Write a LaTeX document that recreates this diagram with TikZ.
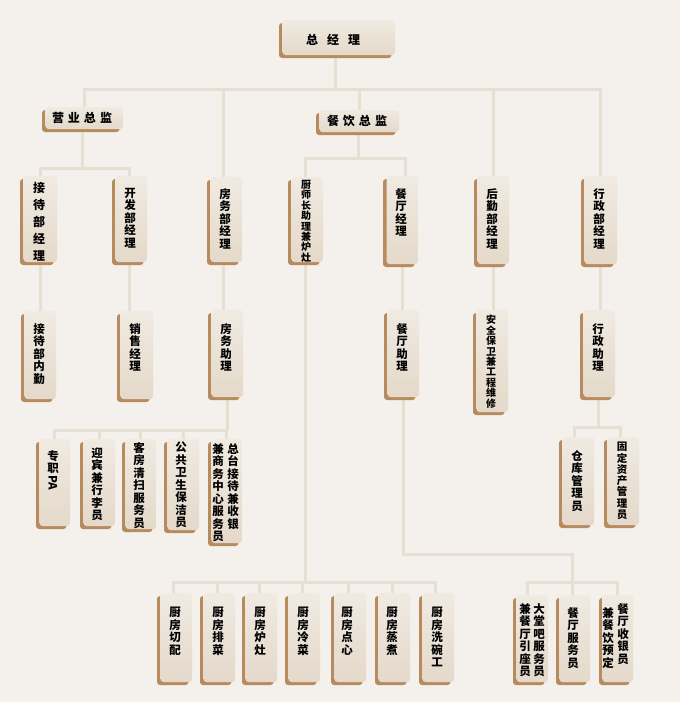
\documentclass[tikz,border=0pt]{standalone}
\usepackage{fontspec}
\newfontfamily\cjk{Noto Sans CJK SC}
\usetikzlibrary{shadows,backgrounds}
\definecolor{bgc}{HTML}{F4F0EB}
\definecolor{facet}{HTML}{F0EAE1}
\definecolor{faceb}{HTML}{E4D9CA}
\definecolor{brownc}{HTML}{B88B5E}
\definecolor{linec}{HTML}{E8DFD3}
\tikzset{
 box/.style={rounded corners=3pt, draw=none, top color=facet, bottom color=faceb, inner sep=0pt,
   general shadow={fill=brownc, shadow xshift=-3.5pt, shadow yshift=-3pt}},
 ln/.style={draw=linec, line width=3pt},
 vt/.style={inner sep=0pt, align=center, font={\cjk\bfseries\fontsize{11.5}{12.5}\selectfont}},
 vtb/.style={inner sep=0pt, align=center, font={\cjk\bfseries\fontsize{12}{17}\selectfont}},
 vtm/.style={inner sep=0pt, align=center, font={\cjk\bfseries\fontsize{10.5}{11.3}\selectfont}},
 vts/.style={inner sep=0pt, align=center, font={\cjk\bfseries\fontsize{10}{10.4}\selectfont}},
 ht/.style={inner sep=0pt, font={\cjk\bfseries\fontsize{12}{14}\selectfont}},
}
% name, x1, y1, x2, y2, text x, text top y, text style, text
\newcommand\ob[9]{%
 \node[box, minimum width={(#4-#2-3.5)*1pt}, minimum height={(#5-#3-3)*1pt}] (#1) at ({(#2+3.5+#4)/2},{(#3+#5-3)/2}) {};
 \node[#8, anchor=north] (#1t) at (#6,#7) {#9};
}
\begin{document}
\begin{tikzpicture}[x=1pt,y=-1pt]
\begin{scope}[on background layer]
 \fill[bgc] (0,0) rectangle (680,702);
\end{scope}
\useasboundingbox (0,0) rectangle (680,702);

% level 0/1
\ob{gm}{279}{20}{395}{58}{333}{34}{ht}{总\hspace{9pt}经\hspace{9pt}理}
\ob{yy}{42}{107}{123}{132}{82}{112}{ht}{营\hspace{4pt}业\hspace{4pt}总\hspace{4pt}监}
\ob{cy}{316}{110}{399}{135}{357}{115}{ht}{餐\hspace{4pt}饮\hspace{4pt}总\hspace{4pt}监}

% level 2
\ob{jd}{20}{176}{57}{265}{39}{182}{vtb}{接\\待\\部\\经\\理}
\ob{kf}{112}{176}{147}{265}{130}{188}{vt}{开\\发\\部\\经\\理}
\ob{fw}{207}{177}{242}{265}{225}{188}{vt}{房\\务\\部\\经\\理}
\ob{cs}{288}{177}{323}{265}{306}{180}{vts}{厨\\师\\长\\助\\理\\兼\\炉\\灶}
\ob{ct}{383}{176}{418}{267}{401}{188}{vt}{餐\\厅\\经\\理}
\ob{hq}{474}{176}{509}{267}{492}{188}{vt}{后\\勤\\部\\经\\理}
\ob{xz}{581}{176}{617}{267}{599}{188}{vt}{行\\政\\部\\经\\理}

% level 3
\ob{jn}{21}{311}{56}{402}{39}{323}{vt}{接\\待\\部\\内\\勤}
\ob{xs}{117}{311}{153}{402}{135}{323}{vt}{销\\售\\经\\理}
\ob{fz}{208}{310}{243}{400}{226}{323}{vt}{房\\务\\助\\理}
\ob{cz}{384}{310}{419}{400}{402}{323}{vt}{餐\\厅\\助\\理}
\ob{aq}{473}{310}{508}{415}{491}{315}{vts}{安\\全\\保\\卫\\兼\\工\\程\\维\\修}
\ob{xr}{580}{310}{615}{400}{598}{323}{vt}{行\\政\\助\\理}

% level 4
\ob{pa}{36}{439}{70}{529}{53}{450}{vt}{专\\职\\[1pt]\rotatebox[origin=c]{-90}{PA}}
\ob{yb}{80}{439}{115}{529}{97}{447}{vt}{迎\\宾\\兼\\行\\李\\员}
\ob{kq}{122}{439}{156}{532}{139}{442}{vt}{客\\房\\清\\扫\\服\\务\\员}
\ob{gw}{164}{439}{199}{533}{181}{442}{vt}{公\\共\\卫\\生\\保\\洁\\员}
\ob{zt}{208}{439}{242}{546}{233}{443}{vt}{总\\台\\接\\待\\兼\\收\\银}
\node[vt, anchor=north] (ztb) at (218,443) {兼\\商\\务\\中\\心\\服\\务\\员};
\ob{ck}{559}{437}{594}{528}{577}{450}{vt}{仓\\库\\管\\理\\员}
\ob{gd}{604}{437}{639}{528}{622}{442}{vtm}{固\\定\\资\\产\\管\\理\\员}

% bottom
\ob{q1}{157}{593}{192}{685}{175}{607}{vt}{厨\\房\\切\\配}
\ob{q2}{200}{593}{235}{685}{218}{607}{vt}{厨\\房\\排\\菜}
\ob{q3}{242}{593}{277}{685}{260}{607}{vt}{厨\\房\\炉\\灶}
\ob{q4}{285}{593}{320}{685}{303}{607}{vt}{厨\\房\\冷\\菜}
\ob{q5}{331}{593}{366}{685}{347}{607}{vt}{厨\\房\\点\\心}
\ob{q6}{375}{593}{410}{685}{392}{607}{vt}{厨\\房\\蒸\\煮}
\ob{q7}{419}{593}{454}{685}{437}{607}{vt}{厨\\房\\洗\\碗\\工}
\ob{r1}{513}{595}{548}{685}{539}{603}{vt}{大\\堂\\吧\\服\\务\\员}
\node[vt, anchor=north] (r1b) at (525,603) {兼\\餐\\厅\\引\\座\\员};
\ob{r2}{556}{595}{590}{685}{573}{607}{vt}{餐\\厅\\服\\务\\员}
\ob{r3}{599}{595}{633}{685}{623}{603}{vt}{餐\\厅\\收\\银\\员}
\node[vt, anchor=north] (r3b) at (608,607) {兼\\餐\\饮\\预\\定};

\coordinate (b0) at (0,89);
\coordinate (b1) at (0,168);
\coordinate (b2) at (0,158);
\coordinate (b3) at (0,430);
\coordinate (b4) at (0,427);
\coordinate (b5) at (0,582);
\coordinate (b6) at (0,554);

\begin{scope}[on background layer]
 \draw[ln] (yy.north) -- (yy.north |- b0) -- (xz.north |- b0) -- (xz.north);
 \draw[ln] ([xshift=-3.5pt]gm.south) -- ([xshift=-3.5pt]gm.south |- b0);
 \draw[ln] ([xshift=-3pt]fw.north) -- ([xshift=-3pt]fw.north |- b0);
 \foreach \n in {cy,hq} \draw[ln] (\n.north) -- (\n.north |- b0);
 \draw[ln] (jd.north) -- (jd.north |- b1) -- ([xshift=-2pt]kf.north |- b1) -- ([xshift=-2pt]kf.north);
 \draw[ln] ([xshift=-2pt]yy.south) -- ([xshift=-2pt]yy.south |- b1);
 \draw[ln] ([xshift=-2pt]cs.north) -- ([xshift=-2pt]cs.north |- b2) -- ([xshift=3pt]ct.north |- b2) -- ([xshift=3pt]ct.north);
 \draw[ln] ([xshift=-1pt]cy.south) -- ([xshift=-1pt]cy.south |- b2);
 \draw[ln] (jd.south) -- (jd.south |- jn.north);
 \draw[ln] ([xshift=-2pt]kf.south) -- ([xshift=-2pt]kf.south |- xs.north);
 \draw[ln] ([xshift=-3pt]fw.south) -- ([xshift=-3pt]fw.south |- fz.north);
 \draw[ln] (ct.south) -- (ct.south |- cz.north);
 \draw[ln] (hq.south) -- (hq.south |- aq.north);
 \draw[ln] (xz.south) -- (xz.south |- xr.north);
 \draw[ln] (fz.south) -- (fz.south |- b3);
 \draw[ln] (pa.north) -- (pa.north |- b3) -- (zt.north |- b3) -- (zt.north);
 \foreach \n in {yb,kq,gw} \draw[ln] (\n.north) -- (\n.north |- b3);
 \draw[ln] ([xshift=-1pt]xr.south) -- ([xshift=-1pt]xr.south |- b4);
 \draw[ln] ([xshift=-4pt]ck.north) -- ([xshift=-4pt]ck.north |- b4) -- ([xshift=-3pt]gd.north |- b4) -- ([xshift=-3pt]gd.north);
 \draw[ln] ([xshift=-2pt]cs.south) -- ([xshift=-2pt]cs.south |- b5);
 \draw[ln] ([xshift=-3pt]q1.north) -- ([xshift=-3pt]q1.north |- b5) -- ([xshift=-3pt]q7.north |- b5) -- ([xshift=-3pt]q7.north);
 \foreach \n in {q2,q3,q4,q5,q6} \draw[ln] ([xshift=-2pt]\n.north) -- ([xshift=-2pt]\n.north |- b5);
 \draw[ln] (cz.south) -- (cz.south |- b6) -- ([xshift=-2pt]r2.north |- b6) -- ([xshift=-2pt]r2.north);
 \draw[ln] ([xshift=-5pt]r1.north) -- ([xshift=-5pt]r1.north |- b5) -- (r3.north |- b5) -- (r3.north);
\end{scope}
\end{tikzpicture}
\end{document}
